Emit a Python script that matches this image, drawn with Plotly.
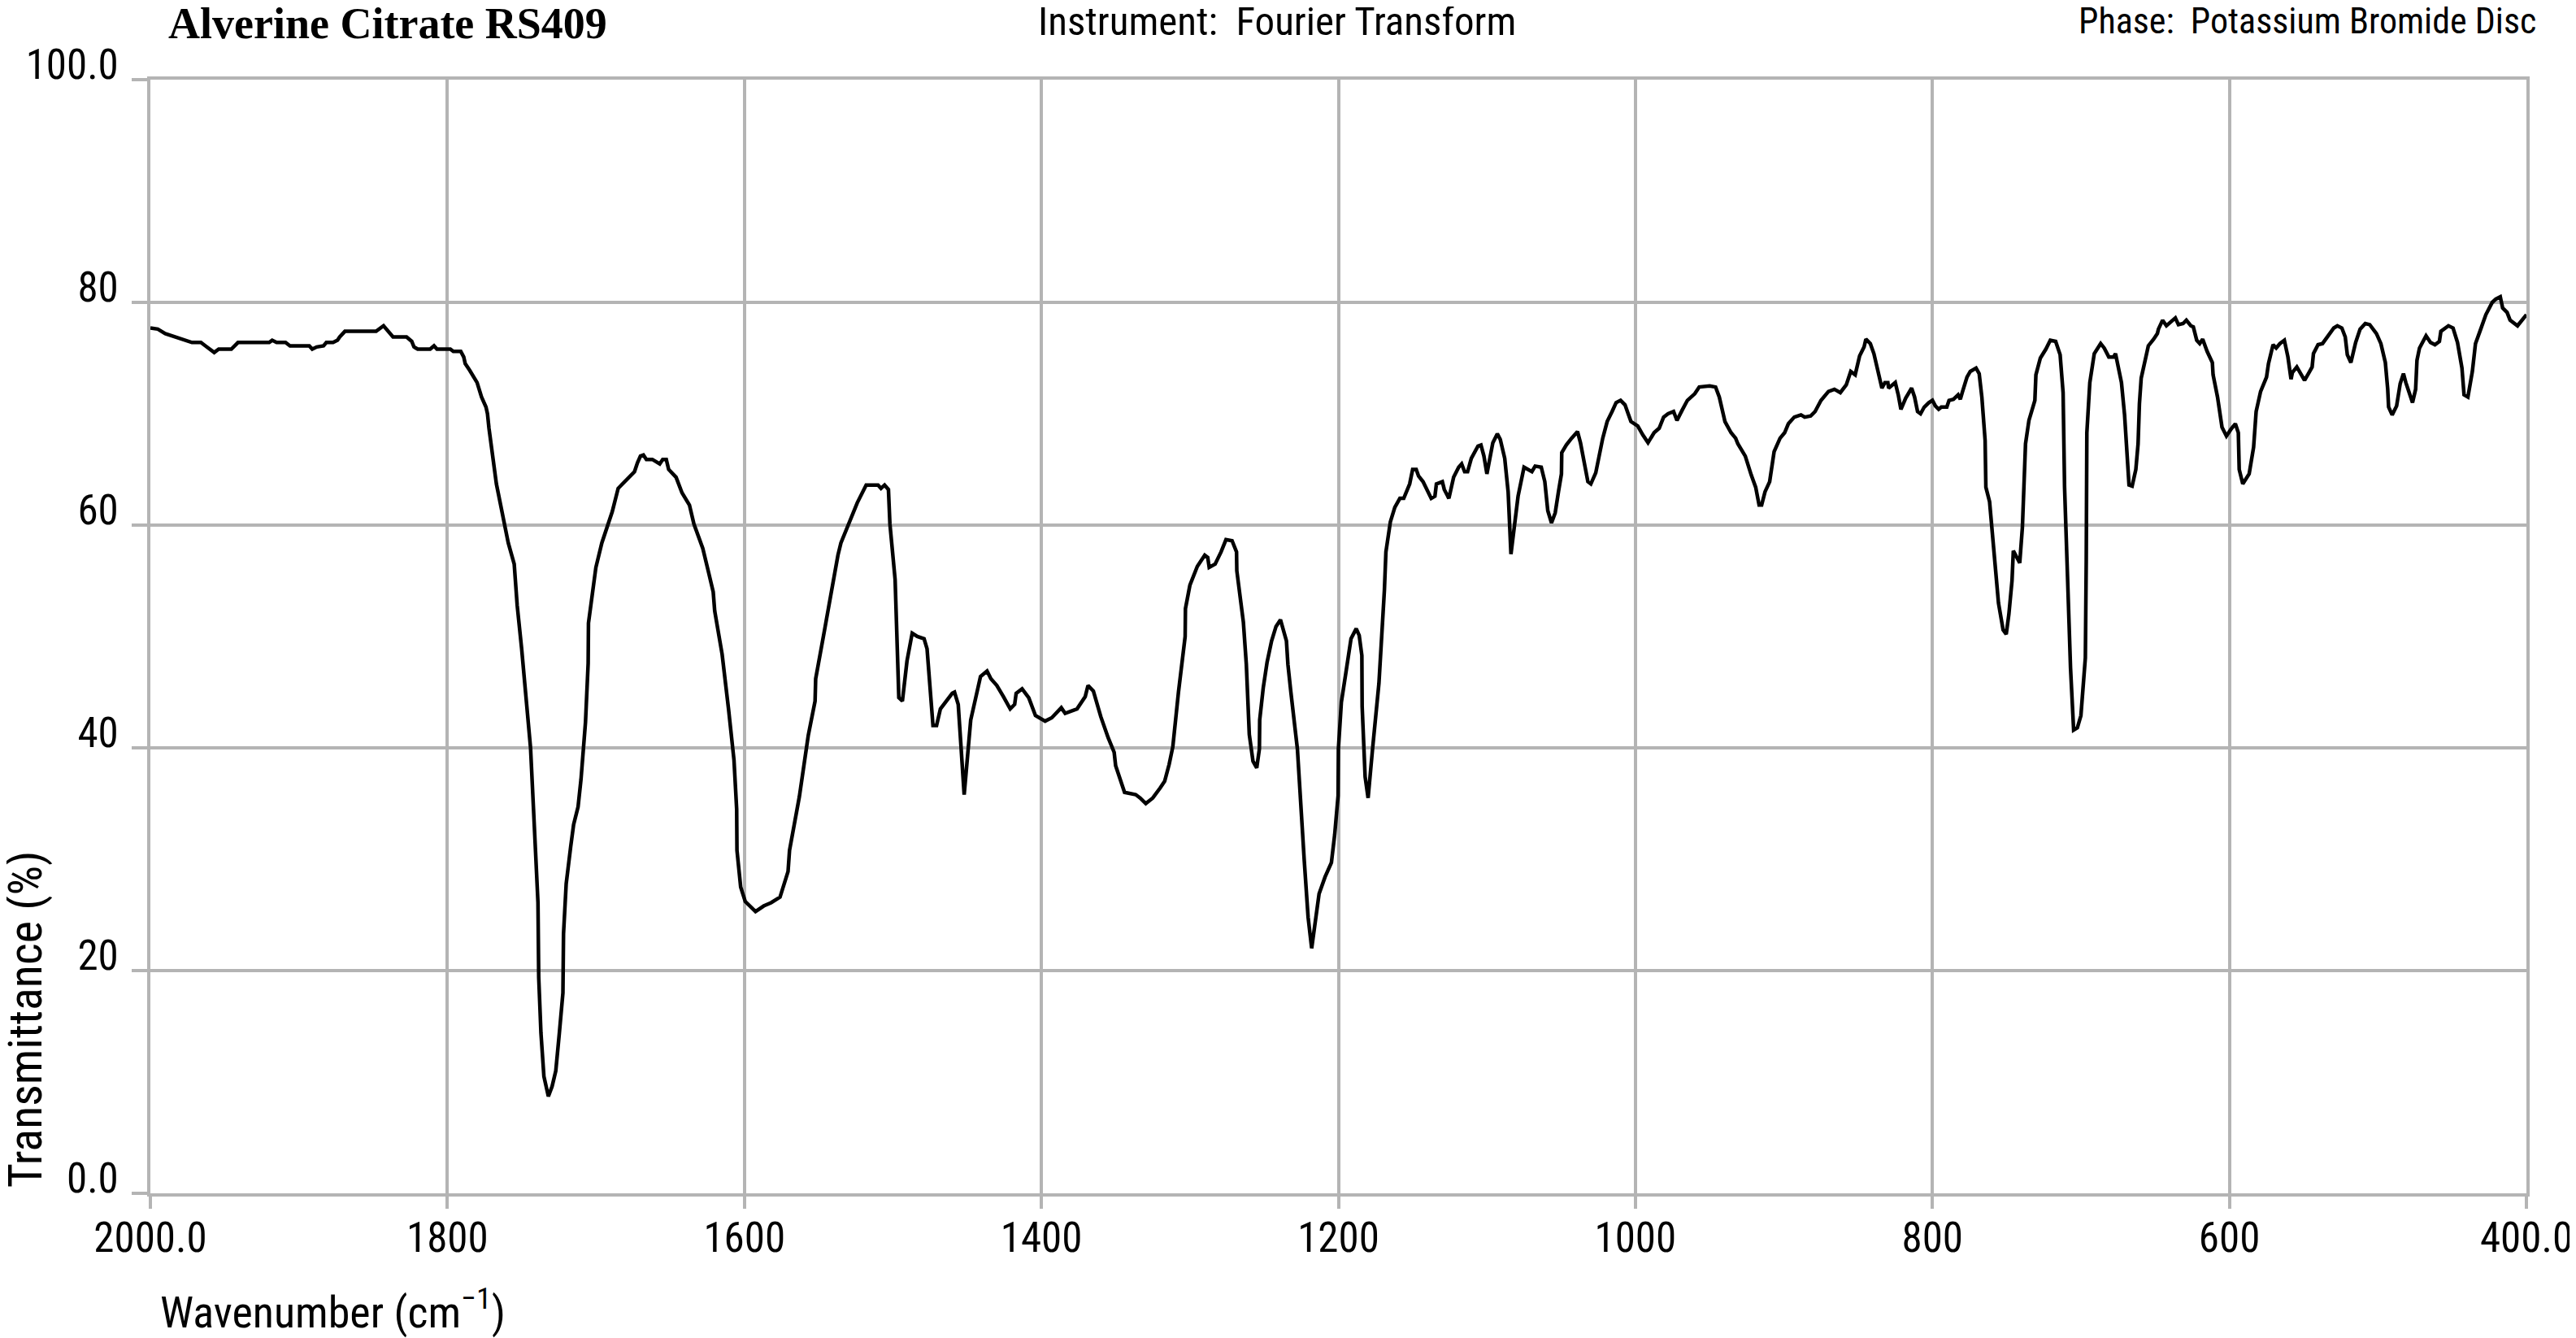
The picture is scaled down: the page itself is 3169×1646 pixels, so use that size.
import plotly.graph_objects as go

# ---- data ----
wavenumber = [
    2000, 1995, 1990, 1983, 1976, 1972, 1966, 1961, 1957, 1954, 1945.5, 1941, 1920, 1918, 1915, 1909,
    1906, 1893, 1891, 1888, 1883.4, 1881.5, 1877, 1874, 1872.5, 1869, 1848, 1843, 1841, 1836.6, 1827.5,
    1824, 1822.5, 1820, 1811.6, 1809, 1807, 1798, 1796, 1791, 1789, 1788, 1785, 1780, 1777, 1774, 1773,
    1772, 1767, 1763.6, 1759, 1755, 1754, 1753, 1750, 1746.5, 1744, 1742, 1740, 1739, 1738.5, 1737, 1735,
    1732, 1729.5, 1727, 1724.6, 1722.2, 1721.8, 1720, 1717, 1715, 1712, 1710, 1707, 1705.2, 1705, 1702.6,
    1700, 1696, 1692, 1689, 1685, 1678, 1674, 1672, 1670, 1668, 1666, 1662, 1657, 1655, 1652.6, 1651,
    1646, 1642, 1637, 1634, 1628, 1624, 1621, 1620, 1615, 1610.6, 1607, 1605.2, 1605, 1602.5, 1599.4,
    1592.5, 1587, 1582, 1576, 1570.6, 1569.6, 1563, 1557, 1552.4, 1552, 1546, 1541.5, 1537, 1535, 1530,
    1524, 1518, 1510, 1508, 1505.6, 1503, 1502, 1498.5, 1496, 1493.6, 1490.5, 1487, 1483.6, 1479, 1477,
    1473, 1470.6, 1468, 1460, 1458.5, 1456, 1452, 1447.6, 1441, 1436.6, 1434, 1430, 1425.6, 1421, 1418,
    1417, 1413, 1408.5, 1404, 1397.5, 1393, 1386.6, 1384, 1376, 1370.5, 1368.6, 1365, 1360, 1355, 1351,
    1350, 1344, 1336.5, 1333.5, 1329.7, 1325, 1320, 1317, 1314, 1311.5, 1307.7, 1303.2, 1303, 1300, 1295,
    1290, 1288, 1287, 1283, 1279, 1275.7, 1271.6, 1268.6, 1268.4, 1264, 1262, 1260, 1257.5, 1255, 1253.2,
    1253, 1250.6, 1248, 1245, 1242, 1239, 1235, 1234, 1232, 1227.6, 1223, 1220.4, 1218, 1215, 1213, 1209,
    1204.7, 1202.5, 1200.2, 1200, 1198, 1195, 1191.5, 1188, 1186, 1184.2, 1184, 1182, 1180, 1177, 1172.7,
    1169, 1168, 1165, 1162, 1158.6, 1156, 1152, 1150, 1147.6, 1146, 1143, 1137.5, 1135, 1134, 1130,
    1128.7, 1125.6, 1122.4, 1119, 1117, 1115, 1113, 1110.5, 1106, 1104, 1102, 1100, 1096, 1093, 1091,
    1088, 1085.7, 1083.8, 1081.6, 1079, 1075, 1072, 1069.7, 1067.5, 1063.4, 1061, 1059, 1056.5, 1054,
    1051.8, 1049.8, 1049.6, 1046.5, 1043, 1039, 1037, 1034, 1032, 1030, 1026.7, 1022, 1019, 1015.7, 1013,
    1010, 1007, 1003, 998.4, 995, 991.5, 987.4, 984, 981, 978, 974.3, 972, 968.6, 965, 960, 957, 950, 946,
    943.5, 939.7, 935.6, 932.5, 931, 926, 922, 919, 916.7, 915, 912.7, 909.6, 906.6, 902.6, 899.5, 897,
    893, 888.5, 886, 882, 879, 875, 870, 866, 862, 858, 855, 852, 849, 846, 844.8, 841.8, 839.4, 837.3,
    835, 834, 832, 830, 829.5, 826.7, 825, 823, 821.2, 818, 816, 814, 812, 810, 808, 805.5, 802.4, 800,
    798, 795.8, 794, 790.3, 788.8, 785.8, 782.7, 781.2, 779.7, 776.7, 774.5, 770.6, 768.5, 766.7, 764.5,
    764, 761.5, 760, 757.6, 755.5, 752.4, 750.3, 748.5, 746.4, 745.5, 741.2, 739.4, 737.3, 735, 731,
    730.3, 727.3, 723.6, 720.6, 717, 714, 712, 711, 709, 707, 704.9, 702.4, 700, 697, 696.4, 696, 694,
    691, 686.7, 684.3, 681.2, 678, 676.7, 675, 672.7, 670.6, 667.6, 665.5, 663, 661.5, 660.6, 659.4, 657,
    654.6, 651, 648.5, 647.8, 645, 642.4, 639.4, 636.4, 634.3, 631.2, 629, 626, 624.3, 622, 620, 618, 615,
    611.5, 611, 608, 605, 602, 599, 596, 594, 593.4, 591, 586.7, 583.7, 582, 579, 575, 573.7, 570.6,
    568.5, 566, 563, 560.6, 558.5, 557.6, 554.6, 551.5, 549.4, 546.4, 544.3, 543.4, 540.3, 537.3, 535,
    532.7, 529.7, 527.3, 524.3, 522, 520.6, 518.2, 515, 512, 508.5, 505.5, 501, 498, 495, 493.4, 492.8,
    490.4, 487.4, 485, 482.8, 481.2, 478.2, 476.7, 474.6, 473.7, 472, 467.6, 464.6, 461.6, 458.6, 457.6,
    452.5, 449.4, 446.4, 443.4, 442, 439.4, 436.4, 434.3, 431.3, 427.3, 423, 420.6, 417.6, 416, 413, 411,
    406, 403, 400,
]

transmittance = [
    77.7, 77.6, 77.2, 76.9, 76.6, 76.4, 76.4, 75.9, 75.5, 75.8, 75.8, 76.4, 76.4, 76.6, 76.4, 76.4,
    76.1, 76.1, 75.8, 76.0, 76.1, 76.4, 76.4, 76.6, 76.9, 77.4, 77.4, 77.9, 77.6, 76.9, 76.9,
    76.5, 76.0, 75.8, 75.8, 76.1, 75.8, 75.8, 75.6, 75.6, 75.1, 74.5, 73.9, 72.8, 71.5, 70.6, 70.0,
    68.7, 63.7, 61.5, 58.4, 56.5, 54.2, 52.8, 48.9, 43.9, 40.0, 34.5, 28.9, 26.1, 19.4, 14.4, 10.5,
    8.7, 9.6, 11.0, 14.4, 18.0, 23.3, 27.8, 31.1, 33.1, 34.7, 37.2, 42.3, 47.6, 51.2, 53.4,
    56.2, 58.4, 60.1, 61.2, 63.3, 64.2, 64.8, 65.6, 66.2, 66.3, 65.9, 65.9, 65.5, 65.9, 65.9, 65.0,
    64.3, 62.9, 61.8, 60.1, 57.9, 55.7, 54.0, 52.3, 48.4, 43.4, 38.9, 34.5, 30.8, 27.5, 26.2,
    25.3, 25.8, 26.1, 26.6, 28.9, 30.8, 35.6, 41.1, 44.2, 46.2, 50.6, 54.0, 57.3, 58.4, 60.1,
    62.0, 63.6, 63.6, 63.3, 63.6, 63.2, 60.1, 55.1, 44.5, 44.2, 47.8, 50.3, 50.0, 49.8, 48.9,
    42.0, 42.0, 43.5, 44.9, 45.0, 43.9, 35.8, 42.5, 46.4, 46.9, 46.2, 45.6, 44.6, 43.5, 43.9,
    44.9, 45.3, 44.5, 42.9, 42.4, 42.7, 43.6, 43.1, 43.5, 44.6, 45.6, 45.1, 42.8, 40.9, 39.6,
    38.4, 36.0, 35.8, 35.5, 35.0, 35.5, 36.4, 37.0, 38.5, 40.1, 45.0, 50.0, 52.5, 54.6, 56.3,
    57.3, 57.1, 56.2, 56.5, 57.6, 58.7, 58.6, 57.6, 55.9, 51.3, 47.5, 41.2, 38.8, 38.2, 39.9,
    42.5, 45.4, 47.7, 49.6, 50.9, 51.5, 49.6, 47.5, 45.0, 39.9, 29.9, 24.8, 22.0, 24.8, 26.9, 28.4,
    29.7, 32.2, 35.7, 39.9, 44.1, 46.7, 49.8, 50.7, 50.1, 48.3, 43.7, 37.4, 35.5, 39.9, 45.8,
    54.2, 57.6, 60.3, 61.6, 62.4, 62.4, 63.7, 65.0, 65.0, 64.4, 63.9, 62.4, 62.6, 63.7, 63.9,
    63.2, 62.4, 64.3, 65.2, 65.5, 64.8, 64.8, 66.0, 67.1, 67.2, 66.2, 64.6, 67.4, 68.2, 67.7,
    66.0, 63.0, 57.4, 59.9, 62.6, 65.2, 65.0, 64.8, 65.3, 65.2, 63.9, 61.3, 60.2, 61.1,
    63.0, 64.6, 66.5, 67.2, 67.8, 68.4, 67.4, 65.1, 63.9, 63.7, 64.7, 67.8, 69.3, 70.2, 71.0,
    71.2, 70.8, 69.3, 68.9, 68.1, 67.4, 68.3, 68.7, 69.7, 70.0, 70.2, 69.4, 70.3, 71.2, 71.8, 72.4, 72.5, 72.4,
    71.5, 69.3, 68.3, 67.8, 67.3, 66.2, 64.5, 63.4, 61.8, 61.8, 63.0, 63.9, 66.6, 67.8, 68.3, 69.1,
    69.7, 69.9, 69.7, 69.8, 70.2, 71.2, 72.0, 72.2, 71.9, 72.6, 73.8, 73.5, 75.2, 76.0, 76.7, 76.3, 75.4, 74.1,
    72.9, 72.3, 72.8, 72.8, 72.3, 72.6, 72.8, 71.7, 70.4, 71.4, 71.8, 72.3, 71.5, 70.2, 70.0, 70.6, 71.0, 71.2,
    70.7, 70.4, 70.6, 70.6, 71.2, 71.3, 71.7, 71.3, 72.0, 73.3, 73.8, 74.1, 73.6, 71.5, 67.6,
    63.4, 62.1, 59.8, 55.6, 53.0, 50.6, 50.2, 52.0, 55.0, 57.7, 56.6, 59.8, 67.3, 69.4, 71.2,
    73.5, 75.0, 75.8, 76.6, 76.5, 75.3, 71.9, 63.4, 55.3, 47.2, 41.6, 41.8, 42.9, 48.1, 56.9, 68.3, 72.8,
    75.4, 76.3, 75.9, 75.1, 75.1, 75.4, 74.1, 72.8, 69.9, 63.6, 63.5, 65.0, 67.3, 70.9, 73.2, 74.8,
    76.1, 76.7, 77.2, 77.6, 78.4, 77.9, 78.2, 78.6, 78.0, 78.1, 78.4, 77.9, 77.8, 76.6, 76.3, 76.7, 75.6,
    74.6, 73.5, 71.5, 68.8, 68.0, 68.6, 69.1, 68.3, 65.0, 63.7, 64.6, 67.0, 70.2, 72.0, 73.3, 74.5, 76.2,
    75.9, 76.3, 76.6, 75.1, 73.1, 73.7, 74.2, 73.5, 73.0, 73.7, 74.2, 75.4, 76.2, 76.3, 76.7,
    77.1, 77.7, 77.9, 77.7, 76.9, 75.3, 74.6, 76.4, 77.6, 78.1, 78.0, 77.2, 76.3, 74.6, 72.2, 70.6,
    69.9, 70.7, 72.7, 73.6, 72.8, 71.5, 71.0, 72.2, 74.8, 75.9, 77.0, 76.4, 76.2, 76.5, 77.4,
    77.9, 77.7, 76.4, 74.1, 71.7, 71.5, 73.8, 76.3, 77.4, 78.9, 80.0, 80.3, 80.5, 79.5, 79.1, 78.4,
    77.9, 78.4, 78.9,
]

x_tick_values = [2000, 1800, 1600, 1400, 1200, 1000, 800, 600, 400]
x_tick_labels = ["2000.0", "1800", "1600", "1400", "1200", "1000", "800", "600", "400.0"]
y_tick_values = [0, 20, 40, 60, 80, 100]
y_tick_labels = ["0.0", "20", "40", "60", "80", "100.0"]

title_text = "Alverine Citrate RS409"
instrument_text = "Instrument:\u00a0 Fourier Transform"
phase_text = "Phase:\u00a0 Potassium Bromide Disc"
x_title = "Wavenumber (cm<sup>\u22121</sup>)"
y_title = "Transmittance (%)"

NARROW = "Liberation Sans Narrow, Arial Narrow, Roboto Condensed, Liberation Sans, Arial, sans-serif"
SERIF = "Liberation Serif, Times New Roman, serif"
GRID = "#b4b4b4"

fig = go.Figure()
fig.add_trace(go.Scatter(
    x=wavenumber, y=transmittance, mode="lines",
    line=dict(color="black", width=4.5), showlegend=False,
))

fig.update_layout(
    width=3169, height=1646,
    margin=dict(l=177, r=55, t=90, b=186),
    paper_bgcolor="white", plot_bgcolor="white",
    font=dict(family=NARROW, color="black", size=51),
)

fig.update_xaxes(
    range=[2000, 400], tickmode="array", tickvals=x_tick_values, ticktext=x_tick_labels,
    showgrid=True, gridcolor=GRID, gridwidth=4, zeroline=False,
    showline=True, linecolor=GRID, linewidth=4, mirror=True,
    ticks="outside", ticklen=15, tickwidth=4, tickcolor=GRID,
    tickfont=dict(family=NARROW, size=51, color="black"),
    ticklabelstandoff=-8, ticklabeloverflow="allow",
)
fig.update_yaxes(
    range=[0, 100], tickmode="array", tickvals=y_tick_values, ticktext=y_tick_labels,
    showgrid=True, gridcolor=GRID, gridwidth=4, zeroline=False,
    showline=True, linecolor=GRID, linewidth=4, mirror=True,
    ticks="outside", ticklen=19, tickwidth=4, tickcolor=GRID,
    tickfont=dict(family=NARROW, size=51, color="black"),
    ticklabelshift=-19, ticklabelstandoff=6, ticklabeloverflow="allow",
)

annotations = [
    dict(text="<b>" + title_text + "</b>", x=0.0068, y=1.050, xanchor="left", yanchor="middle",
         font=dict(family=SERIF, size=54, color="black")),
    dict(text=instrument_text, x=0.4743, y=1.0525, xanchor="center", yanchor="middle",
         font=dict(family=NARROW, size=49, color="black")),
    dict(text=phase_text, x=1.0047, y=1.0525, xanchor="right", yanchor="middle",
         font=dict(family=NARROW, size=44, color="black")),
    dict(text=x_title, x=0.0035, y=-0.104, xanchor="left", yanchor="middle",
         font=dict(family=NARROW, size=54, color="black")),
    dict(text=y_title, x=-0.0528, y=0.0036, xanchor="center", yanchor="bottom", textangle=-90,
         font=dict(family=NARROW, size=58, color="black")),
]
for a in annotations:
    a.update(xref="paper", yref="paper", showarrow=False)
fig.update_layout(annotations=annotations)

fig.write_html("out.html")
